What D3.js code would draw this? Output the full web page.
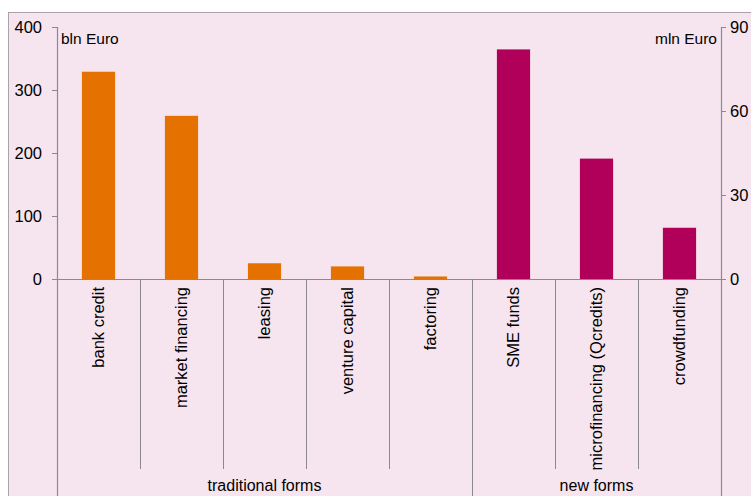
<!DOCTYPE html>
<html><head><meta charset="utf-8">
<script src="https://cdn.jsdelivr.net/npm/d3@7"></script>
<style>body{margin:0;background:#fff;}svg{display:block;font-family:"Liberation Sans",Arial,sans-serif;}</style>
</head><body>
<svg id="c" width="751" height="496"></svg>
<script>
const categories = ["bank credit","market financing","leasing","venture capital","factoring","SME funds","microfinancing (Qcredits)","crowdfunding"];
const groups = ["traditional","traditional","traditional","traditional","traditional","new","new","new"];
const groupLabels = [{key:"traditional",label:"traditional forms"},{key:"new",label:"new forms"}];
const traditionalValues = [329, 259, 25, 20, 4, null, null, null]; // bln Euro, left axis
const newValues = [null, null, null, null, null, 82, 43, 18.3];     // mln Euro, right axis
const leftTicks = [0,100,200,300,400];
const rightTicks = [0,30,60,90];

const svg = d3.select("#c");
const X0 = 57, X1 = 721, Y0 = 279, Y1 = 27;
const axisCol = "#8a8a8a";

svg.append("rect").attr("x",8.5).attr("y",12.5).attr("width",760).attr("height",500)
  .attr("fill","#f6e5ef").attr("stroke","#a9a2aa").attr("stroke-width",1);

const x = d3.scaleBand().domain(categories).range([X0,X1]).padding(0);
const yL = d3.scaleLinear().domain([0,400]).range([Y0,Y1]);
const yR = d3.scaleLinear().domain([0,90]).range([Y0,Y1]);
const bw = x.bandwidth()*0.4, off = x.bandwidth()*0.3;

// bars
svg.append("g").selectAll("rect").data(categories.map((c,i)=>({c,v:traditionalValues[i]})).filter(d=>d.v!=null))
  .join("rect").attr("x",d=>x(d.c)+off).attr("width",bw)
  .attr("y",d=>yL(d.v)).attr("height",d=>Y0-yL(d.v)).attr("fill","#e57200");
svg.append("g").selectAll("rect").data(categories.map((c,i)=>({c,v:newValues[i]})).filter(d=>d.v!=null))
  .join("rect").attr("x",d=>x(d.c)+off).attr("width",bw)
  .attr("y",d=>yR(d.v)).attr("height",d=>Y0-yR(d.v)).attr("fill","#b0005a");

// left axis
const gl = svg.append("g").attr("transform",`translate(${X0},0)`)
  .call(d3.axisLeft(yL).tickValues(leftTicks).tickSize(5).tickPadding(10).tickFormat(d3.format("d")));
gl.select(".domain").remove();
gl.selectAll("line").attr("stroke",axisCol);
gl.selectAll("text").attr("font-size",16.5).attr("fill","#000").attr("font-family","Liberation Sans, Arial, sans-serif");
// right axis
const gr = svg.append("g").attr("transform",`translate(${X1},0)`)
  .call(d3.axisRight(yR).tickValues(rightTicks).tickSize(5).tickPadding(4).tickFormat(d3.format("d")));
gr.select(".domain").remove();
gr.selectAll("line").attr("stroke",axisCol);
gr.selectAll("text").attr("font-size",16.5).attr("fill","#000").attr("font-family","Liberation Sans, Arial, sans-serif");

// axis lines
svg.append("line").attr("x1",X0+0.5).attr("x2",X0+0.5).attr("y1",Y1).attr("y2",496).attr("stroke",axisCol).attr("stroke-width",1.2);
svg.append("line").attr("x1",X1+0.5).attr("x2",X1+0.5).attr("y1",Y1).attr("y2",496).attr("stroke",axisCol).attr("stroke-width",1.2);
svg.append("line").attr("x1",X0-5).attr("x2",X1+5).attr("y1",Y0+0.5).attr("y2",Y0+0.5).attr("stroke",axisCol).attr("stroke-width",1.2);

// category dividers
categories.forEach((c,i)=>{
  if(i===0) return;
  const xx = Math.round(x(c))+0.5;
  const groupBoundary = groups[i]!==groups[i-1];
  svg.append("line").attr("x1",xx).attr("x2",xx).attr("y1",Y0).attr("y2",groupBoundary?496:469)
    .attr("stroke",axisCol).attr("stroke-width",1);
});

// category labels
svg.append("g").selectAll("text").data(categories).join("text")
  .attr("transform",d=>`translate(${x(d)+x.bandwidth()/2+5.5},287) rotate(-90)`)
  .attr("text-anchor","end").attr("font-size",16.5).text(d=>d);

// group labels
groupLabels.forEach(g=>{
  const cs = categories.filter((c,i)=>groups[i]===g.key);
  const a = x(cs[0]), b = x(cs[cs.length-1])+x.bandwidth();
  svg.append("text").attr("x",(a+b)/2).attr("y",491).attr("text-anchor","middle").attr("font-size",16).text(g.label);
});

// units
svg.append("text").attr("x",61).attr("y",44).attr("font-size",15.5).text("bln Euro");
svg.append("text").attr("x",717).attr("y",44).attr("text-anchor","end").attr("font-size",15.5).text("mln Euro");
</script>
</body></html>
